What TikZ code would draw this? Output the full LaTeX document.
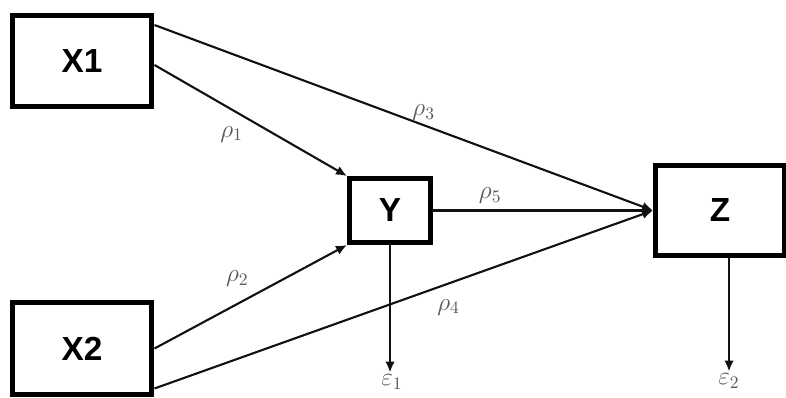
\documentclass[tikz,border=0pt]{standalone}
\usepackage{fontspec}
\setmainfont{Liberation Sans}
\usepackage{amsmath,amssymb}
\usepackage{xcolor}
\usepackage{tikz}
\usetikzlibrary{arrows.meta,positioning,calc}
\definecolor{boxink}{HTML}{000000}
\definecolor{pathink}{HTML}{111111}
\definecolor{coefgray}{HTML}{585858}
\tikzset{
  varbox/.style={draw=boxink,line width=0.1cm,fill=white,align=center,
    font=\fontsize{19}{21}\selectfont\bfseries,inner sep=0pt},
  patharrow/.style={-{Latex[length=2.2mm,width=1.9mm]},draw=pathink,line width=1.2pt},
  coef/.style={font=\Large,text=coefgray,inner sep=1pt},
  errterm/.style={font=\Large,text=coefgray,inner sep=1pt}
}

\begin{document}
\begin{tikzpicture}[x=0.02cm,y=-0.02cm]
  \useasboundingbox (0,0) rectangle (786,398);
  \node[varbox,minimum width=2.8cm,minimum height=1.84cm] (x1) at (82,61) {X1};
  \node[varbox,minimum width=2.8cm,minimum height=1.84cm] (x2) at (82,348.5) {X2};
  \node[varbox,minimum width=1.62cm,minimum height=1.28cm] (y) at (390,210.5) {Y};
  \node[varbox,minimum width=2.58cm,minimum height=1.8cm] (z) at (720,210.5) {Z};
  \node[errterm] (e1) at (392,382) {$\varepsilon_1$};
  \node[errterm] (e2) at (729,381) {$\varepsilon_2$};
  \draw[patharrow] ([yshift=-0.08cm]x1.east) -- node[coef,pos=0.4,below=0.28cm] {$\rho_1$} (y.north west);
  \draw[patharrow] (x2.east) -- node[coef,pos=0.43,above=0.3cm] {$\rho_2$} (y.south west);
  \draw[patharrow] ([yshift=0.72cm]x1.east) -- node[coef,pos=0.54,above=0.03cm] {$\rho_3$} (z.west);
  \draw[patharrow] ([yshift=-0.8cm]x2.east) -- node[coef,pos=0.59,below=0.26cm] {$\rho_4$} (z.west);
  \draw[patharrow] (y.east) -- node[coef,pos=0.26,above=0.08cm] {$\rho_5$} (z.west);
  \draw[patharrow] (y.south) -- (y.south |- e1.north);
  \draw[patharrow] ([xshift=0.18cm]z.south) -- (z.south -| e2.north) -- (e2.north);
\end{tikzpicture}
\end{document}
